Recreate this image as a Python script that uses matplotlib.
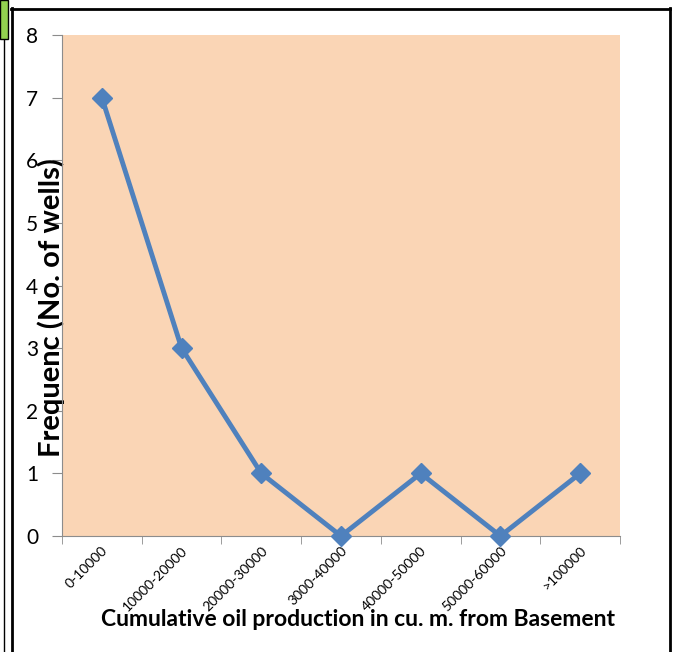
import matplotlib.pyplot as plt
import matplotlib.transforms as mtransforms
from matplotlib.lines import Line2D
from matplotlib.patches import Rectangle
import numpy as np

# ---- Data -----------------------------------------------------------
categories = ["0-10000", "10000-20000", "20000-30000", "3000-40000",
              "40000-50000", "50000-60000", ">100000"]
wells = [7, 3, 1, 0, 1, 0, 1]
y_ticks = [0, 1, 2, 3, 4, 5, 6, 7, 8]

plt.rcParams['font.family'] = ['Lato', 'DejaVu Sans']

fig = plt.figure(figsize=(6.76, 6.52), dpi=100)
ax = fig.add_axes([62 / 676, 1 - 536 / 652, 558 / 676, 501 / 652])

x = np.arange(len(categories))
ax.set_facecolor("#FAD5B5")
ax.plot(x, wells, color="#4F81BD", linewidth=3.5, marker="D", markersize=10.5,
        clip_on=False, zorder=3)

ax.set_xlim(-0.5, len(categories) - 0.5)
ax.set_ylim(0, 8)
ax.set_yticks(y_ticks)
ax.tick_params(axis="y", labelsize=15, length=7, color="#8C8C8C", pad=10)

# category labels at centers, tick marks at boundaries
ax.set_xticks(x)
ax.set_xticklabels(categories, rotation=45, ha="right", va="center",
                   rotation_mode="anchor", fontsize=10)
ax.tick_params(axis="x", length=0, pad=9)
shift = mtransforms.ScaledTranslation(4 / 100, 0, fig.dpi_scale_trans)
for lbl in ax.get_xticklabels():
    lbl.set_transform(lbl.get_transform() + shift)
ax.set_xticks(np.arange(-0.5, len(categories)), minor=True)
ax.tick_params(axis="x", which="minor", length=6, color="#8C8C8C")

for s in ["top", "right"]:
    ax.spines[s].set_visible(False)
for s in ["left", "bottom"]:
    ax.spines[s].set_color("#8C8C8C")

ax.set_xlabel("Cumulative oil production in cu. m. from Basement",
              fontsize=16.5, fontweight="bold")
ax.xaxis.set_label_coords(0.531, -0.145)
ax.set_ylabel("Frequenc (No. of wells)", fontsize=21, fontweight="bold")
ax.yaxis.set_label_coords(0.006, 0.455)

# ---- outer frame bits -------------------------------------------------
fig.add_artist(Line2D([11 / 676, 670 / 676], [1 - 8.5 / 652] * 2,
                      color="black", linewidth=2))
fig.add_artist(Line2D([669.5 / 676] * 2, [0, 1 - 8 / 652],
                      color="black", linewidth=2))
fig.add_artist(Line2D([11.5 / 676] * 2, [0, 1 - 8 / 652],
                      color="black", linewidth=2))
fig.add_artist(Line2D([3.5 / 676] * 2, [0, 1 - 40 / 652],
                      color="black", linewidth=1))
fig.add_artist(Rectangle((0, 1 - 39 / 652), 7.5 / 676, 39 / 652,
                         transform=fig.transFigure, facecolor="#92D050",
                         edgecolor="black", linewidth=1))

fig.savefig("out.png", dpi=100)
